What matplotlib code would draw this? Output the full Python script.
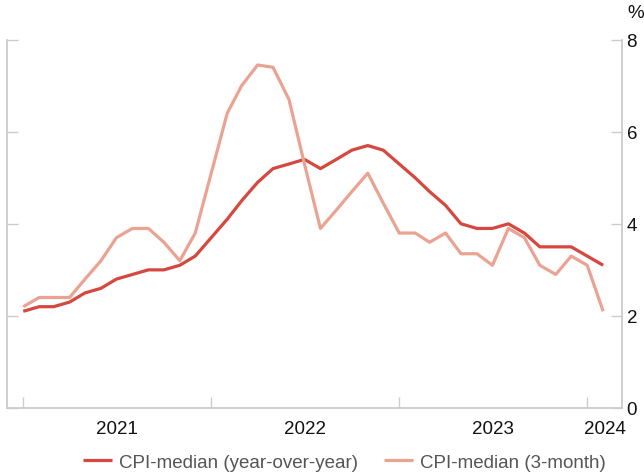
import matplotlib
matplotlib.use("Agg")
import matplotlib.pyplot as plt
import pandas as pd

plt.rcParams["font.family"] = ["Liberation Sans", "DejaVu Sans"]

# Monthly observations, Jan 2021 - Feb 2024
months = pd.date_range("2021-01-01", "2024-02-01", freq="MS")
cpi_median_yoy = [2.1, 2.2, 2.2, 2.3, 2.5, 2.6, 2.8, 2.9, 3.0, 3.0, 3.1, 3.3,
                  3.7, 4.1, 4.5, 4.9, 5.2, 5.3, 5.4, 5.2, 5.4, 5.6, 5.7, 5.6,
                  5.3, 5.0, 4.7, 4.4, 4.0, 3.9, 3.9, 4.0, 3.8, 3.5, 3.5, 3.5,
                  3.3, 3.1]
cpi_median_3m = [2.2, 2.4, 2.4, 2.4, 2.8, 3.2, 3.7, 3.9, 3.9, 3.6, 3.2, 3.8,
                 5.1, 6.4, 7.0, 7.45, 7.4, 6.7, 5.3, 3.9, 4.3, 4.7, 5.1, 4.45,
                 3.8, 3.8, 3.6, 3.8, 3.35, 3.35, 3.1, 3.9, 3.7, 3.1, 2.9, 3.3,
                 3.1, 2.1]
year_labels = ["2021", "2022", "2023", "2024"]
y_ticks = [0, 2, 4, 6, 8]

red = "#d5473f"
pink = "#eaa392"
spine_grey = "#cccccc"
fs = 13.5

fig = plt.figure(figsize=(6.44, 4.77), dpi=100)
ax = fig.add_axes([0.0113, 0.1426, 0.9541, 0.7721])

ax.plot(months, cpi_median_yoy, color=red, lw=2.3, zorder=3,
        label="CPI-median (year-over-year)", solid_capstyle="butt")
ax.plot(months, cpi_median_3m, color=pink, lw=2.3, zorder=4,
        label="CPI-median (3-month)", solid_capstyle="butt")

x_left = pd.Timestamp("2020-12-01")
x_right = pd.Timestamp("2024-03-08")
ax.set_xlim(x_left, x_right)
ax.set_ylim(0, 8)

ax.spines["top"].set_visible(False)
for side in ["left", "right", "bottom"]:
    ax.spines[side].set_color(spine_grey)
    ax.spines[side].set_linewidth(1.3)

# y axis: ticks on both sides, labels on the right
ax.set_yticks(y_ticks)
ax.yaxis.set_ticks_position("both")
ax.tick_params(axis="y", direction="in", length=8, width=1.0, color=spine_grey,
               left=True, right=True, labelleft=False, labelright=True,
               labelsize=fs, pad=3.5, labelcolor="#111111")

# x axis: year boundary ticks, labels centred in each year
year_starts = [pd.Timestamp(f"{y}-01-01") for y in year_labels]
ax.set_xticks(year_starts)
ax.set_xticklabels([])
ax.tick_params(axis="x", which="major", direction="in", length=8, width=1.0,
               color=spine_grey)
centres = []
for i, start in enumerate(year_starts):
    end = year_starts[i + 1] if i + 1 < len(year_starts) else x_right
    centres.append(start + (end - start) / 2)
ax.set_xticks(centres, minor=True)
ax.set_xticklabels(year_labels, minor=True)
ax.tick_params(axis="x", which="minor", length=0, labelsize=fs, pad=8.5,
               labelcolor="#111111")

fig.text(0.9875, 0.972, "%", ha="center", va="center", fontsize=fs,
         color="#111111")

fig.legend(loc="center", bbox_to_anchor=(0.535, 0.029), ncol=2, frameon=False,
           fontsize=fs, handlelength=1.55, handletextpad=0.35,
           columnspacing=1.4, labelcolor="#555555")

fig.savefig("out.png", dpi=100)
